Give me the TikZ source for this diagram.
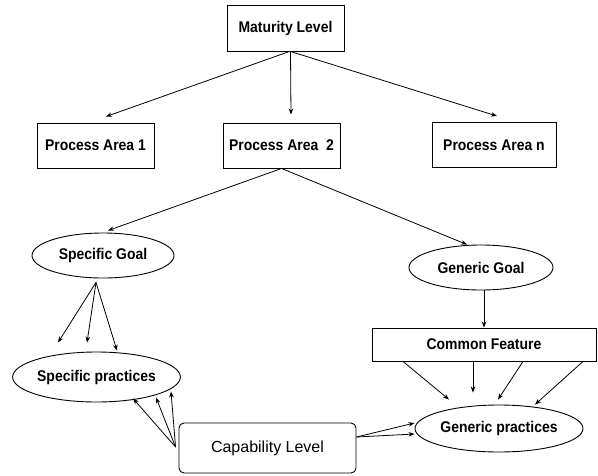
\documentclass[tikz,border=0pt]{standalone}
\usepackage{fontspec}
\setmainfont{Liberation Sans}[FakeStretch=0.9]
\newfontfamily\plainfont{Liberation Sans}
\usetikzlibrary{shapes.geometric,arrows.meta}

\tikzset{
  lbl/.style={font=\fontsize{15.5}{18}\selectfont\bfseries},
  box/.style={draw, rectangle, line width=0.9pt, inner sep=0pt, lbl},
  oval/.style={draw, ellipse, line width=0.9pt, inner sep=0pt, lbl},
  arr/.style={line width=0.8pt, -{Stealth[length=6pt,width=4.5pt]}},
}

\begin{document}
\begin{tikzpicture}[x=1pt, y=-1pt]
\useasboundingbox (0,0) rectangle (598,475);

% top level and process areas
\node[box, minimum width=117pt, minimum height=46pt] (ML)  at (285.5,28)  {Maturity Level};
\node[box, minimum width=117pt, minimum height=45pt] (PA1) at (95.5,145.5) {Process Area 1};
\node[box, minimum width=117pt, minimum height=45pt] (PA2) at (281.5,145.5) {Process Area\ \ 2};
\node[box, minimum width=124pt, minimum height=45pt] (PAn) at (494,145)   {Process Area n};

% goals
\node[oval, minimum width=142pt, minimum height=45pt] (SG) at (103,255.5) {Specific Goal};
\node[oval, minimum width=144pt, minimum height=45pt] (GG) at (481,267.5) {Generic Goal};

% features and practices
\node[box, minimum width=224pt, minimum height=33pt] (CF) at (484,344.5) {Common Feature};
\node[oval, minimum width=167pt, minimum height=50pt] (SP) at (96.5,377) {Specific practices};
\node[oval, minimum width=168pt, minimum height=47pt] (GP) at (499,428.5) {Generic practices};
\node[draw, rectangle, rounded corners=5pt, line width=0.9pt, inner sep=0pt,
      minimum width=177pt, minimum height=50pt,
      font=\plainfont\fontsize{16}{19}\selectfont] (CL) at (267.5,448) {Capability Level};

% maturity level to process areas
\draw[arr] ([xshift=4pt]ML.south) -- ([xshift=10.5pt,yshift=6pt]PA1.north);
\draw[arr] ([xshift=5pt]ML.south) -- ([xshift=9.5pt,yshift=8pt]PA2.north);
\draw[arr] ([xshift=5pt]ML.south) -- ([xshift=3pt,yshift=6pt]PAn.north);

% process area to goals
\draw[arr] (PA2.south) -- ([xshift=5pt,yshift=2pt]SG.north);
\draw[arr] (PA2.south) -- ([xshift=-14pt]GG.north);

% specific goal to specific practices
\coordinate (sgfoot) at ([xshift=-7pt,yshift=-4pt]SG.south);
\draw[arr] (sgfoot) -- ([xshift=-38.5pt,yshift=9pt]SP.north);
\draw[arr] (sgfoot) -- ([xshift=-9.5pt,yshift=9pt]SP.north);
\draw[arr] (sgfoot) -- ([xshift=20.5pt,yshift=1pt]SP.north);

% capability level to specific practices
\coordinate (clw) at ([xshift=-3pt,yshift=1pt]CL.west);
\draw[arr] (clw) -- ([xshift=36.5pt,yshift=4pt]SP.south);
\draw[arr] (clw) -- ([xshift=59.5pt,yshift=5pt]SP.south);
\draw[arr] (clw) -- ([xshift=74.5pt,yshift=11pt]SP.south);

% generic goal to common feature
\draw[arr] ([xshift=3pt]GG.south) -- (CF.north);

% common feature to generic practices
\draw[arr] ([xshift=-81pt]CF.south) -- ([xshift=-50pt,yshift=5pt]GP.north);
\draw[arr] ([xshift=-11pt]CF.south) -- ([xshift=-26pt,yshift=12pt]GP.north);
\draw[arr] ([xshift=39pt]CF.south) -- ([xshift=-1pt,yshift=5pt]GP.north);
\draw[arr] ([xshift=99pt]CF.south) -- ([xshift=36pt]GP.north);

% capability level to generic practices
\draw[arr] ([yshift=11pt]CL.east) -- ([yshift=5.5pt]GP.west);
\draw[arr] ([yshift=11pt]CL.east) -- ([yshift=-5.5pt]GP.west);
\end{tikzpicture}
\end{document}
